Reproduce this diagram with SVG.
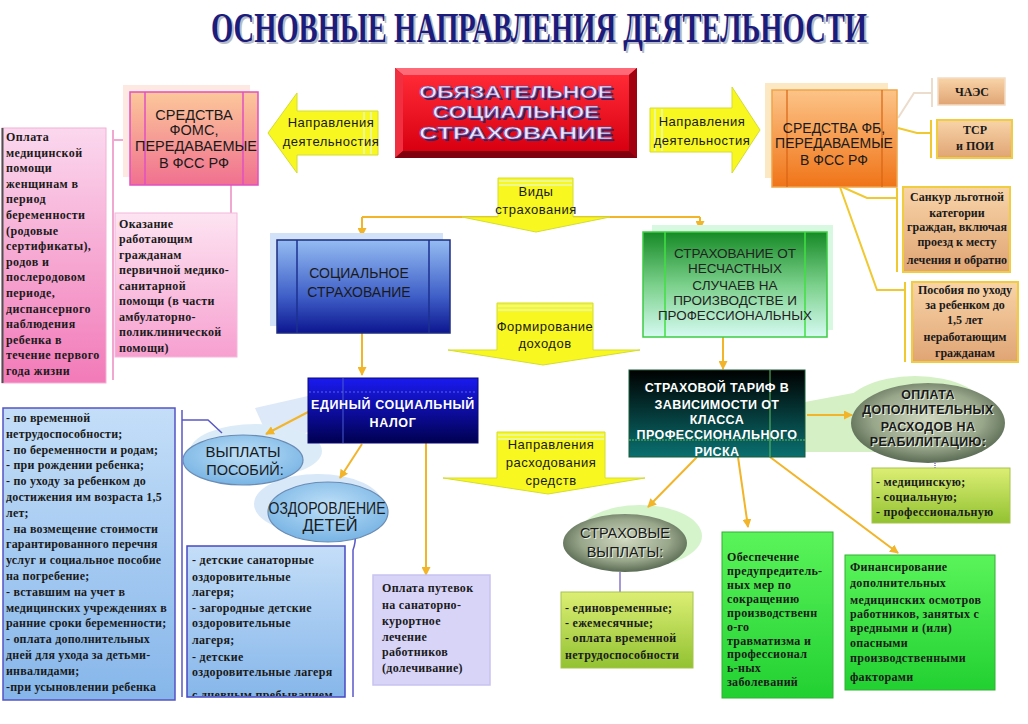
<svg xmlns="http://www.w3.org/2000/svg" width="1028" height="724" viewBox="0 0 1028 724">
<defs>
<style>
.sans{font-family:"Liberation Sans",Arial,sans-serif;}
.serif{font-family:"Liberation Serif","Times New Roman",serif;font-weight:bold;font-size:12px;fill:#1a1a1a;}
.ctr{text-anchor:middle;}
.dk{fill:#1a1a1a;}
.wt{fill:#ffffff;font-weight:bold;}
.conn{stroke:#f2b428;stroke-width:2;fill:none;}
.br{stroke:#f0c830;stroke-width:2;fill:none;}
.pk{stroke:#f0a8d0;stroke-width:2;fill:none;}
.bl{stroke:#5a58c8;stroke-width:1.5;fill:none;}
.yarrow{fill:#f8f820;stroke:#d4dc30;stroke-width:1;}
.stripe{stroke:#eef890;stroke-width:2;}
.ttl{font-family:"Liberation Serif","Times New Roman",serif;font-weight:bold;font-size:34px;text-anchor:middle;}
</style>
<marker id="ah" markerWidth="9" markerHeight="9" refX="8" refY="4.5" orient="auto" markerUnits="userSpaceOnUse"><path d="M0,0 L9,4.5 L0,9 z" fill="#f2b428"/></marker>
<linearGradient id="gPinkBig" x1="0" y1="0" x2="0" y2="1"><stop offset="0" stop-color="#fbd8ee"/><stop offset="1" stop-color="#f27ab8"/></linearGradient>
<linearGradient id="gPinkSm" x1="0" y1="0" x2="0" y2="1"><stop offset="0" stop-color="#fde4f2"/><stop offset="1" stop-color="#f7a0d0"/></linearGradient>
<linearGradient id="gFoms" x1="0" y1="0" x2="0" y2="1"><stop offset="0" stop-color="#fcc89a"/><stop offset="1" stop-color="#f07090"/></linearGradient>
<linearGradient id="gFb" x1="0" y1="0" x2="0" y2="1"><stop offset="0" stop-color="#fcc488"/><stop offset="1" stop-color="#f07418"/></linearGradient>
<linearGradient id="gTan" x1="0" y1="0" x2="0" y2="1"><stop offset="0" stop-color="#f8d4a8"/><stop offset="1" stop-color="#e0a474"/></linearGradient>
<linearGradient id="gRed" x1="0" y1="0" x2="0" y2="1"><stop offset="0" stop-color="#ff2a36"/><stop offset="1" stop-color="#d80010"/></linearGradient>
<linearGradient id="gSoc" x1="0" y1="0" x2="0" y2="1"><stop offset="0" stop-color="#94bcf2"/><stop offset="0.6" stop-color="#4060c8"/><stop offset="1" stop-color="#0c1690"/></linearGradient>
<linearGradient id="gEsn" x1="0" y1="0" x2="0" y2="1"><stop offset="0" stop-color="#1a1af0"/><stop offset="1" stop-color="#000050"/></linearGradient>
<linearGradient id="gGreenTop" x1="0" y1="0" x2="0" y2="1"><stop offset="0" stop-color="#168a26"/><stop offset="0.5" stop-color="#7ad08a"/><stop offset="1" stop-color="#d6faf2"/></linearGradient>
<linearGradient id="gTarif" x1="0" y1="0" x2="0" y2="1"><stop offset="0" stop-color="#000000"/><stop offset="1" stop-color="#0a7070"/></linearGradient>
<linearGradient id="gLb" x1="0" y1="0" x2="0" y2="1"><stop offset="0" stop-color="#c4def8"/><stop offset="1" stop-color="#86b6ea"/></linearGradient>
<linearGradient id="gYg" x1="0" y1="0" x2="0" y2="1"><stop offset="0" stop-color="#dcee74"/><stop offset="1" stop-color="#92c232"/></linearGradient>
<linearGradient id="gBg" x1="0" y1="0" x2="0" y2="1"><stop offset="0" stop-color="#5af45a"/><stop offset="1" stop-color="#22d032"/></linearGradient>
<radialGradient id="gOvalBlue" cx="0.5" cy="0.4" r="0.6"><stop offset="0" stop-color="#bfe0f8"/><stop offset="1" stop-color="#78b4e4"/></radialGradient>
<radialGradient id="gOvalGray" cx="0.5" cy="0.45" r="0.6"><stop offset="0" stop-color="#d0d8c0"/><stop offset="0.6" stop-color="#98a68a"/><stop offset="1" stop-color="#4a5c46"/></radialGradient>
<clipPath id="clipKids"><rect x="187" y="546" width="158" height="150"/></clipPath>
</defs>
<rect x="0" y="0" width="1028" height="724" fill="#ffffff"/>

<g id="title">
<text class="ttl" transform="translate(541,44) scale(1,1.25)" x="0" y="0" textLength="656" lengthAdjust="spacingAndGlyphs" fill="#b8bcc8">ОСНОВНЫЕ НАПРАВЛЕНИЯ ДЕЯТЕЛЬНОСТИ</text>
<text class="ttl" transform="translate(539,42) scale(1,1.25)" x="0" y="0" textLength="656" lengthAdjust="spacingAndGlyphs" fill="#1c1c7c">ОСНОВНЫЕ НАПРАВЛЕНИЯ ДЕЯТЕЛЬНОСТИ</text>
</g>

<g id="glows">
<polygon points="255,408 308,396 308,432 272,446" fill="#dde9f8"/>
<polygon points="805,402 880,388 875,452 805,452" fill="#d4f0c4"/>
<ellipse cx="640" cy="536" rx="62" ry="31" fill="#d6f4cc"/>
<ellipse cx="915" cy="412" rx="72" ry="36" fill="#d4f0c4"/>
<ellipse cx="256" cy="451" rx="66" ry="27" fill="#dcebf8"/>
<ellipse cx="318" cy="504" rx="64" ry="30" fill="#d8e8f8"/>
</g>

<g id="connectors">
<path class="conn" d="M362,217 H700"/>
<path class="conn" d="M362,217 V236" marker-end="url(#ah)"/>
<path class="conn" d="M700,217 V229" marker-end="url(#ah)"/>
<path class="conn" d="M362,333 V375" marker-end="url(#ah)"/>
<path class="conn" d="M723,337 V369" marker-end="url(#ah)"/>
<path class="conn" d="M310,411 L266,434" marker-end="url(#ah)"/>
<path class="conn" d="M362,444 L340,478" marker-end="url(#ah)"/>
<path class="conn" d="M426,443 V575" marker-end="url(#ah)"/>
<path class="conn" d="M807,415 H852" marker-end="url(#ah)"/>
<path class="conn" d="M697,457 L648,507" marker-end="url(#ah)"/>
<path class="conn" d="M738,457 L748,527" marker-end="url(#ah)"/>
<path class="conn" d="M770,457 L898,553" marker-end="url(#ah)"/>
<path d="M898,118 L914,93 H932 M932,78 V107" stroke="#ecdccc" stroke-width="2" fill="none"/>
<path class="br" d="M898,128 L917,133 H931 M931,120 V158"/>
<path class="br" d="M840,186 L867,198 H897 M897,188 V272"/>
<path class="br" d="M840,187 L877,290 H905 M905,282 V362"/>
<path class="pk" d="M130,140 H113 M113,130 V380"/>
<path class="pk" d="M231,185 V213"/>
<path class="bl" d="M182,410 V697 M182,420 H208 L222,433"/>
<path class="bl" d="M355,535 Q356,542 353,550 V697"/>
<path d="M935,463 V468" stroke="#8070c0" stroke-width="1.5" stroke-dasharray="1,1"/>
<path d="M620,572 V592" stroke="#8878c8" stroke-width="1.5"/>
</g>

<g id="n-title-oss">
<rect x="395" y="68" width="242" height="90" fill="#b00010"/>
<polygon points="395,68 637,68 629,75 403,75" fill="#ff6a78"/>
<polygon points="395,68 403,75 403,151 395,158" fill="#f03040"/>
<polygon points="637,68 637,158 629,151 629,75" fill="#a00010"/>
<polygon points="395,158 637,158 629,151 403,151" fill="#800010"/>
<rect x="403" y="75" width="226" height="76" fill="url(#gRed)"/>
<g class="sans ctr" font-weight="bold" font-size="17">
<text x="518" y="100" fill="#402060" textLength="194" lengthAdjust="spacingAndGlyphs">ОБЯЗАТЕЛЬНОЕ</text>
<text x="518" y="120" fill="#402060" textLength="167" lengthAdjust="spacingAndGlyphs">СОЦИАЛЬНОЕ</text>
<text x="518" y="141" fill="#402060" textLength="194" lengthAdjust="spacingAndGlyphs">СТРАХОВАНИЕ</text>
<text x="516" y="98" fill="#ece6ff" stroke="#6a4a9a" stroke-width="0.6" textLength="194" lengthAdjust="spacingAndGlyphs">ОБЯЗАТЕЛЬНОЕ</text>
<text x="516" y="118" fill="#ece6ff" stroke="#6a4a9a" stroke-width="0.6" textLength="167" lengthAdjust="spacingAndGlyphs">СОЦИАЛЬНОЕ</text>
<text x="516" y="139" fill="#ece6ff" stroke="#6a4a9a" stroke-width="0.6" textLength="194" lengthAdjust="spacingAndGlyphs">СТРАХОВАНИЕ</text>
</g>
</g>

<g id="n-arrow-left">
<polygon class="yarrow" points="268,133 297,93 297,111 378,111 378,155 297,155 297,173"/>
<line class="stripe" x1="364" y1="112" x2="364" y2="154"/>
<line class="stripe" x1="371" y1="112" x2="371" y2="154"/>
<text class="sans ctr dk" x="331" y="127" font-size="13" letter-spacing="0.5">Направления</text>
<text class="sans ctr dk" x="331" y="146" font-size="13" letter-spacing="0.5">деятельностия</text>
</g>

<g id="n-arrow-right">
<polygon class="yarrow" points="650,108 732,108 732,87 760,130 732,173 732,152 650,152"/>
<line class="stripe" x1="655" y1="109" x2="655" y2="151"/>
<line class="stripe" x1="662" y1="109" x2="662" y2="151"/>
<text class="sans ctr dk" x="702" y="126" font-size="13" letter-spacing="0.5">Направления</text>
<text class="sans ctr dk" x="702" y="145" font-size="13" letter-spacing="0.5">деятельностия</text>
</g>

<g id="n-foms">
<rect x="123" y="85" width="127" height="92" fill="#fde8e2"/>
<rect x="130" y="92" width="128" height="93" fill="url(#gFoms)" stroke="#e050c0" stroke-width="1.5"/>
<line x1="145" y1="92" x2="145" y2="185" stroke="#e050c0" stroke-width="1.5"/>
<line x1="243" y1="92" x2="243" y2="185" stroke="#e050c0" stroke-width="1.5"/>
<g class="sans ctr dk" font-size="14.5">
<text x="194" y="120">СРЕДСТВА</text>
<text x="194" y="135">ФОМС,</text>
<text x="196" y="151" textLength="122" lengthAdjust="spacingAndGlyphs">ПЕРЕДАВАЕМЫЕ</text>
<text x="194" y="168">В ФСС РФ</text>
</g>
</g>

<g id="n-pink-big">
<rect x="2" y="128" width="104" height="255" fill="url(#gPinkBig)" stroke="#f4b0d8" stroke-width="1"/>
<line x1="2.5" y1="128" x2="2.5" y2="383" stroke="#505050" stroke-width="2"/>
<g class="serif" letter-spacing="0.4">
<text x="6" y="141">Оплата</text>
<text x="6" y="157">медицинской</text>
<text x="6" y="172">помощи</text>
<text x="6" y="188">женщинам в</text>
<text x="6" y="203">период</text>
<text x="6" y="219">беременности</text>
<text x="6" y="235">(родовые</text>
<text x="6" y="250">сертификаты),</text>
<text x="6" y="266">родов и</text>
<text x="6" y="281">послеродовом</text>
<text x="6" y="297">периоде,</text>
<text x="6" y="313">диспансерного</text>
<text x="6" y="328">наблюдения</text>
<text x="6" y="344">ребенка в</text>
<text x="6" y="359">течение первого</text>
<text x="6" y="375">года жизни</text>
</g>
</g>

<g id="n-pink-small">
<rect x="115" y="213" width="122" height="144" fill="url(#gPinkSm)" stroke="#f4b8dc" stroke-width="1"/>
<g class="serif" letter-spacing="0.3">
<text x="119" y="228">Оказание</text>
<text x="119" y="243">работающим</text>
<text x="119" y="259">гражданам</text>
<text x="119" y="274">первичной медико-</text>
<text x="119" y="290">санитарной</text>
<text x="119" y="305">помощи (в части</text>
<text x="119" y="321">амбулаторно-</text>
<text x="119" y="336">поликлинической</text>
<text x="119" y="352">помощи)</text>
</g>
</g>

<g id="n-vidy">
<polygon class="yarrow" points="498,178 573,178 573,217 610,217 536,232 462,217 498,217"/>
<line class="stripe" x1="499" y1="181" x2="572" y2="181"/>
<line class="stripe" x1="499" y1="185" x2="572" y2="185"/>
<text class="sans ctr dk" x="536" y="196" font-size="13" letter-spacing="0.5">Виды</text>
<text class="sans ctr dk" x="536" y="214" font-size="13" letter-spacing="0.5">страхования</text>
</g>

<g id="n-soc">
<rect x="270" y="233" width="173" height="93" fill="#d2e2f8"/>
<rect x="277" y="240" width="173" height="93" fill="url(#gSoc)" stroke="#1c2c80" stroke-width="1.5"/>
<line x1="297" y1="240" x2="297" y2="333" stroke="#1c3090" stroke-width="1.5"/>
<line x1="429" y1="240" x2="429" y2="333" stroke="#1c3090" stroke-width="1.5"/>
<text class="sans ctr dk" x="359" y="278" font-size="14">СОЦИАЛЬНОЕ</text>
<text class="sans ctr dk" x="359" y="297" font-size="14">СТРАХОВАНИЕ</text>
</g>

<g id="n-nschast">
<rect x="652" y="225" width="181" height="105" fill="#d8f8e2"/>
<rect x="643" y="232" width="184" height="105" fill="url(#gGreenTop)" stroke="#3ccc44" stroke-width="1.5"/>
<line x1="665" y1="232" x2="665" y2="337" stroke="#40e040" stroke-width="1.5"/>
<line x1="805" y1="232" x2="805" y2="337" stroke="#40e040" stroke-width="1.5"/>
<g class="sans ctr" font-size="13.5" fill="#222">
<text x="735" y="258">СТРАХОВАНИЕ ОТ</text>
<text x="735" y="273">НЕСЧАСТНЫХ</text>
<text x="735" y="290">СЛУЧАЕВ НА</text>
<text x="735" y="305">ПРОИЗВОДСТВЕ И</text>
<text x="735" y="320" textLength="154" lengthAdjust="spacingAndGlyphs">ПРОФЕССИОНАЛЬНЫХ</text>
</g>
</g>

<g id="n-formir">
<polygon class="yarrow" points="497,303 593,303 593,350 640,350 543,365 448,350 497,350"/>
<line class="stripe" x1="498" y1="306" x2="592" y2="306"/>
<line class="stripe" x1="498" y1="310" x2="592" y2="310"/>
<text class="sans ctr dk" x="545" y="331" font-size="13" letter-spacing="0.5">Формирование</text>
<text class="sans ctr dk" x="545" y="348" font-size="13" letter-spacing="0.5">доходов</text>
</g>

<g id="n-esn">
<rect x="308" y="378" width="170" height="65" fill="url(#gEsn)" stroke="#0a0a70" stroke-width="1"/>
<line x1="343" y1="378" x2="343" y2="443" stroke="#4a5ad0" stroke-width="1"/>
<line x1="309" y1="392" x2="477" y2="392" stroke="#6a78e0" stroke-width="0.8" stroke-dasharray="2,2"/>
<text class="sans ctr wt" x="393" y="409" font-size="12.5" letter-spacing="0.6">ЕДИНЫЙ СОЦИАЛЬНЫЙ</text>
<text class="sans ctr wt" x="393" y="427" font-size="12.5" letter-spacing="0.6">НАЛОГ</text>
</g>

<g id="n-tarif">
<rect x="629" y="370" width="176" height="87" fill="url(#gTarif)" stroke="#1a5a3a" stroke-width="1"/>
<line x1="770" y1="370" x2="770" y2="457" stroke="#60c060" stroke-width="1"/>
<line x1="629" y1="440" x2="805" y2="440" stroke="#60c060" stroke-width="1" stroke-dasharray="2,1"/>
<g class="sans ctr wt" font-size="12.5" letter-spacing="0.4">
<text x="717" y="392">СТРАХОВОЙ ТАРИФ В</text>
<text x="717" y="409">ЗАВИСИМОСТИ ОТ</text>
<text x="717" y="424">КЛАССА</text>
<text x="717" y="439">ПРОФЕССИОНАЛЬНОГО</text>
<text x="717" y="456">РИСКА</text>
</g>
</g>

<g id="n-rashod">
<polygon class="yarrow" points="497,432 605,432 605,478 645,478 548,494 443,478 497,478"/>
<line class="stripe" x1="498" y1="435" x2="604" y2="435"/>
<line class="stripe" x1="498" y1="439" x2="604" y2="439"/>
<text class="sans ctr dk" x="551" y="449" font-size="13" letter-spacing="0.5">Направления</text>
<text class="sans ctr dk" x="551" y="467" font-size="13" letter-spacing="0.5">расходования</text>
<text class="sans ctr dk" x="551" y="485" font-size="13" letter-spacing="0.5">средств</text>
</g>

<g id="n-fb">
<rect x="765" y="83" width="123" height="95" fill="#fde8c4"/>
<rect x="772" y="90" width="125" height="97" fill="url(#gFb)" stroke="#f0a448" stroke-width="1.5"/>
<line x1="787" y1="90" x2="787" y2="187" stroke="#d86414" stroke-width="1.2"/>
<line x1="882" y1="90" x2="882" y2="187" stroke="#d86414" stroke-width="1.2"/>
<g class="sans ctr dk" font-size="14">
<text x="834" y="133">СРЕДСТВА ФБ,</text>
<text x="834" y="148">ПЕРЕДАВАЕМЫЕ</text>
<text x="834" y="165">В ФСС РФ</text>
</g>
</g>

<g id="n-chaes">
<rect x="938" y="78" width="67" height="27" fill="url(#gTan)" stroke="#f4dcc4" stroke-width="1.5"/>
<text class="serif ctr" x="972" y="96" font-size="11">ЧАЭС</text>
</g>

<g id="n-tsr">
<rect x="937" y="120" width="75" height="38" fill="url(#gTan)" stroke="#f0cc40" stroke-width="2"/>
<text class="serif ctr" x="975" y="134" font-size="11.5">ТСР</text>
<text class="serif ctr" x="975" y="150" font-size="11.5">и ПОИ</text>
</g>

<g id="n-sankur">
<rect x="903" y="187" width="107" height="85" fill="url(#gTan)" stroke="#f0cc40" stroke-width="2"/>
<g class="serif ctr" font-size="11.5">
<text x="957" y="201">Санкур льготной</text>
<text x="957" y="217">категории</text>
<text x="957" y="231">граждан, включая</text>
<text x="957" y="246">проезд к месту</text>
<text x="957" y="264">лечения и обратно</text>
</g>
</g>

<g id="n-posob">
<rect x="912" y="282" width="106" height="80" fill="url(#gTan)" stroke="#f0cc40" stroke-width="2"/>
<g class="serif ctr" font-size="11.5">
<text x="965" y="294">Пособия по уходу</text>
<text x="965" y="309">за ребенком до</text>
<text x="965" y="324">1,5 лет</text>
<text x="965" y="341">неработающим</text>
<text x="965" y="357">гражданам</text>
</g>
</g>

<g id="n-vyplaty">
<ellipse cx="243" cy="460" rx="60" ry="25" fill="url(#gOvalBlue)" stroke="#6a8cb4" stroke-width="1.2"/>
<text class="sans ctr dk" x="243" y="457" font-size="15">ВЫПЛАТЫ</text>
<text class="sans ctr dk" x="245" y="475" font-size="14.5">ПОСОБИЙ:</text>
</g>

<g id="n-ozdor">
<ellipse cx="328" cy="512" rx="60" ry="30" fill="url(#gOvalBlue)" stroke="#6a8cb4" stroke-width="1.2"/>
<text class="sans ctr dk" x="327" y="514" font-size="16.5" textLength="117" lengthAdjust="spacingAndGlyphs">ОЗДОРОВЛЕНИЕ</text>
<text class="sans ctr dk" x="330" y="531" font-size="16.5">ДЕТЕЙ</text>
</g>

<g id="n-posobia-list">
<rect x="3" y="408" width="172" height="292" fill="url(#gLb)" stroke="#5454c4" stroke-width="1.5"/>
<g class="serif" letter-spacing="0.2">
<text x="6" y="422">- по временной</text>
<text x="6" y="438">нетрудоспособности;</text>
<text x="6" y="454">- по беременности и родам;</text>
<text x="6" y="469">- при рождении ребенка;</text>
<text x="6" y="485">- по уходу за ребенком до</text>
<text x="6" y="501">достижения им возраста 1,5</text>
<text x="6" y="517">лет;</text>
<text x="6" y="533">- на возмещение стоимости</text>
<text x="6" y="548">гарантированного перечня</text>
<text x="6" y="564">услуг и социальное пособие</text>
<text x="6" y="580">на погребение;</text>
<text x="6" y="596">- вставшим на учет в</text>
<text x="6" y="612">медицинских учреждениях в</text>
<text x="6" y="627">ранние сроки беременности;</text>
<text x="6" y="643">- оплата дополнительных</text>
<text x="6" y="659">дней для ухода за детьми-</text>
<text x="6" y="675">инвалидами;</text>
<text x="6" y="691">-при усыновлении ребенка</text>
</g>
</g>

<g id="n-kids-list">
<rect x="187" y="546" width="158" height="151" fill="url(#gLb)" stroke="#4848c4" stroke-width="1.5"/>
<g class="serif" letter-spacing="0.3" clip-path="url(#clipKids)">
<text x="192" y="564">- детские санаторные</text>
<text x="192" y="581">оздоровительные</text>
<text x="192" y="596">лагеря;</text>
<text x="192" y="612">- загородные детские</text>
<text x="192" y="627">оздоровительные</text>
<text x="192" y="644">лагеря;</text>
<text x="192" y="661">- детские</text>
<text x="192" y="676">оздоровительные лагеря</text>
<text x="192" y="699">с дневным пребыванием</text>
</g>
</g>

<g id="n-putevki">
<rect x="373" y="575" width="117" height="110" fill="#d8d4f8" stroke="#c8c2f0" stroke-width="1.5"/>
<g class="serif" letter-spacing="0.3">
<text x="382" y="592">Оплата путевок</text>
<text x="382" y="609">на санаторно-</text>
<text x="382" y="625">курортное</text>
<text x="382" y="641">лечение</text>
<text x="382" y="656">работников</text>
<text x="382" y="672">(долечивание)</text>
</g>
</g>

<g id="n-reabil">
<ellipse cx="928" cy="423" rx="77" ry="40" fill="url(#gOvalGray)"/>
<g class="sans ctr" font-size="12.5" font-weight="bold" letter-spacing="0.3">
<text x="929" y="400" fill="#e8f0e0">ОПЛАТА</text>
<text x="929" y="415" fill="#e8f0e0">ДОПОЛНИТЕЛЬНЫХ</text>
<text x="929" y="432" fill="#e8f0e0">РАСХОДОВ НА</text>
<text x="929" y="447" fill="#e8f0e0">РЕАБИЛИТАЦИЮ:</text>
<text x="928" y="399" fill="#1a1a1a">ОПЛАТА</text>
<text x="928" y="414" fill="#1a1a1a">ДОПОЛНИТЕЛЬНЫХ</text>
<text x="928" y="431" fill="#1a1a1a">РАСХОДОВ НА</text>
<text x="928" y="446" fill="#1a1a1a">РЕАБИЛИТАЦИЮ:</text>
</g>
</g>

<g id="n-reabil-list">
<rect x="872" y="468" width="138" height="55" fill="url(#gYg)" stroke="#a6c44a" stroke-width="1"/>
<g class="serif" letter-spacing="0.3">
<text x="876" y="486">- медицинскую;</text>
<text x="876" y="501">- социальную;</text>
<text x="876" y="516">- профессиональную</text>
</g>
</g>

<g id="n-strvypl">
<ellipse cx="625" cy="543" rx="62" ry="29" fill="url(#gOvalGray)"/>
<text class="sans ctr" x="626" y="539" font-size="14.5" fill="#e8f0e0">СТРАХОВЫЕ</text>
<text class="sans ctr" x="626" y="558" font-size="14.5" fill="#e8f0e0">ВЫПЛАТЫ:</text>
<text class="sans ctr dk" x="625" y="538" font-size="14.5">СТРАХОВЫЕ</text>
<text class="sans ctr dk" x="625" y="557" font-size="14.5">ВЫПЛАТЫ:</text>
</g>

<g id="n-strvypl-list">
<rect x="561" y="592" width="132" height="76" fill="url(#gYg)" stroke="#a6c44a" stroke-width="1"/>
<g class="serif" letter-spacing="0.3">
<text x="565" y="612">- единовременные;</text>
<text x="565" y="627">- ежемесячные;</text>
<text x="565" y="642">- оплата временной</text>
<text x="565" y="659">нетрудоспособности</text>
</g>
</g>

<g id="n-obesp">
<rect x="722" y="532" width="111" height="166" fill="url(#gBg)" stroke="#30b030" stroke-width="1"/>
<g class="serif" font-size="11.5" letter-spacing="0.3">
<text x="727" y="561">Обеспечение</text>
<text x="727" y="575">предупредитель-</text>
<text x="727" y="589">ных мер по</text>
<text x="727" y="603">сокращению</text>
<text x="727" y="617">производственн</text>
<text x="727" y="631">о-го</text>
<text x="727" y="645">травматизма и</text>
<text x="727" y="658">профессионал</text>
<text x="727" y="672">ь-ных</text>
<text x="727" y="686">заболеваний</text>
</g>
</g>

<g id="n-finans">
<rect x="845" y="555" width="150" height="135" fill="url(#gBg)" stroke="#30b030" stroke-width="1"/>
<g class="serif" font-size="11.5" letter-spacing="0.3">
<text x="850" y="571">Финансирование</text>
<text x="850" y="587">дополнительных</text>
<text x="850" y="604">медицинских осмотров</text>
<text x="850" y="618">работников, занятых с</text>
<text x="850" y="632">вредными и (или)</text>
<text x="850" y="647">опасными</text>
<text x="850" y="662">производственными</text>
<text x="850" y="681">факторами</text>
</g>
</g>
</svg>
